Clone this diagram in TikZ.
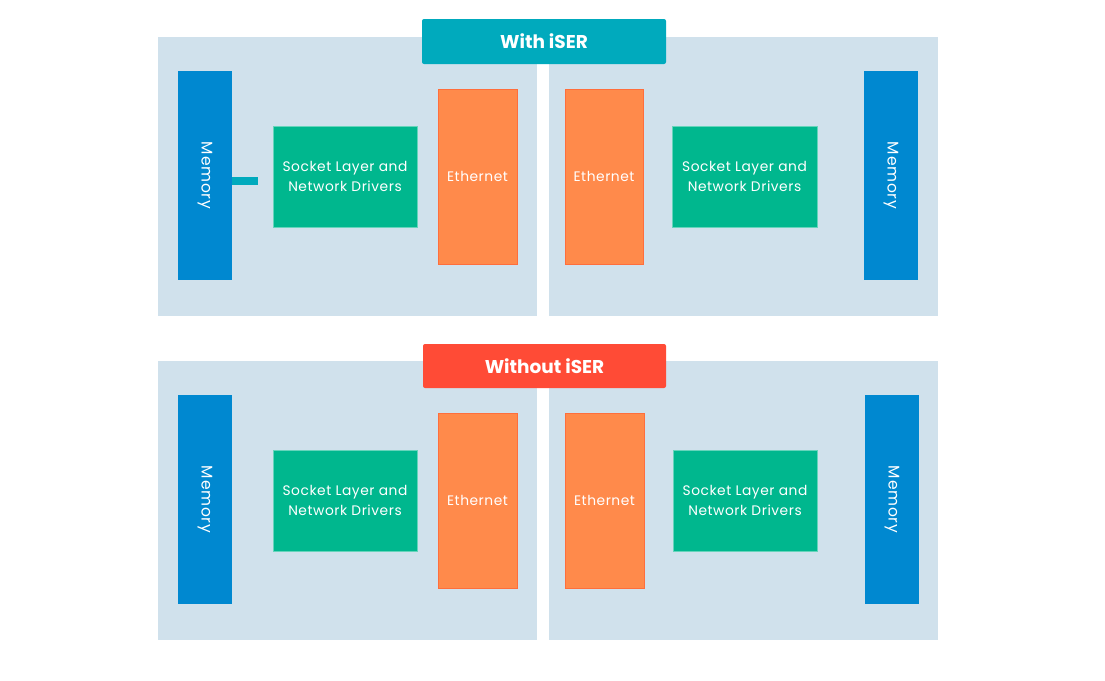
\documentclass[tikz,border=0pt]{standalone}
\usepackage{fontspec}
\setmainfont{Poppins}
\begin{document}
\begin{tikzpicture}[x=1pt,y=-1pt,
  panel/.style={fill=panelc, draw=none},
  box/.style={draw=none, text=white, inner sep=0pt, font=\fontsize{13.8}{20}\selectfont\addfontfeature{LetterSpace=4}},
  membox/.style={box, fill=memc, font=\fontsize{15.5}{20}\selectfont\addfontfeature{LetterSpace=5}},
  sockbox/.style={box, fill=sockc, draw=sockc!60!white, line width=0.5pt, align=center},
  ethbox/.style={box, fill=ethc, draw=ethc!80!red, line width=0.5pt},
  titlebox/.style={rounded corners=2pt, text=white, font=\fontsize{18.5}{22}\selectfont\bfseries}]
\definecolor{panelc}{HTML}{D0E1EC}
\definecolor{memc}{HTML}{0088D0}
\definecolor{sockc}{HTML}{00B78E}
\definecolor{ethc}{HTML}{FF8A4B}
\definecolor{tealc}{HTML}{00AABD}
\definecolor{redc}{HTML}{FF4B36}
\useasboundingbox (0,0) rectangle (1105,680);
% top panels
\fill[panelc] (158,37) rectangle (537,316);
\fill[panelc] (549,37) rectangle (938,316);
\node[titlebox, fill=tealc, minimum width=244pt, minimum height=45pt] (t1) at (544,41.5) {With iSER};
\node[membox, minimum width=54pt, minimum height=209pt] (m1) at (205,175.5) {\rotatebox{-90}{Memory}};
\node[sockbox, minimum width=144pt, minimum height=101pt] (s1) at (345,176.5) {Socket Layer and\\Network Drivers};
\node[ethbox, minimum width=79pt, minimum height=175pt] (e1) at (477.5,176.5) {Ethernet};
\node[ethbox, minimum width=78pt, minimum height=175pt] (e2) at (604,176.5) {Ethernet};
\node[sockbox, minimum width=145pt, minimum height=101pt] (s2) at (744.5,176.5) {Socket Layer and\\Network Drivers};
\node[membox, minimum width=54pt, minimum height=209pt] (m2) at (891,175.5) {\rotatebox{-90}{Memory}};
\coordinate (c1) at (258,181);
\draw[tealc, line width=8pt] (m1.east |- c1) -- (c1);
% bottom panels
\fill[panelc] (158,361) rectangle (537,640);
\fill[panelc] (549,361) rectangle (938,640);
\node[titlebox, fill=redc, minimum width=243pt, minimum height=44pt] (t2) at (544.5,366) {Without iSER};
\node[membox, minimum width=54pt, minimum height=209pt] (m3) at (205,499.5) {\rotatebox{-90}{Memory}};
\node[sockbox, minimum width=144pt, minimum height=101pt] (s3) at (345,500.5) {Socket Layer and\\Network Drivers};
\node[ethbox, minimum width=79pt, minimum height=175pt] (e3) at (477.5,500.5) {Ethernet};
\node[ethbox, minimum width=79pt, minimum height=175pt] (e4) at (604.5,500.5) {Ethernet};
\node[sockbox, minimum width=144pt, minimum height=101pt] (s4) at (745,500.5) {Socket Layer and\\Network Drivers};
\node[membox, minimum width=54pt, minimum height=209pt] (m4) at (892,499.5) {\rotatebox{-90}{Memory}};
\end{tikzpicture}
\end{document}
